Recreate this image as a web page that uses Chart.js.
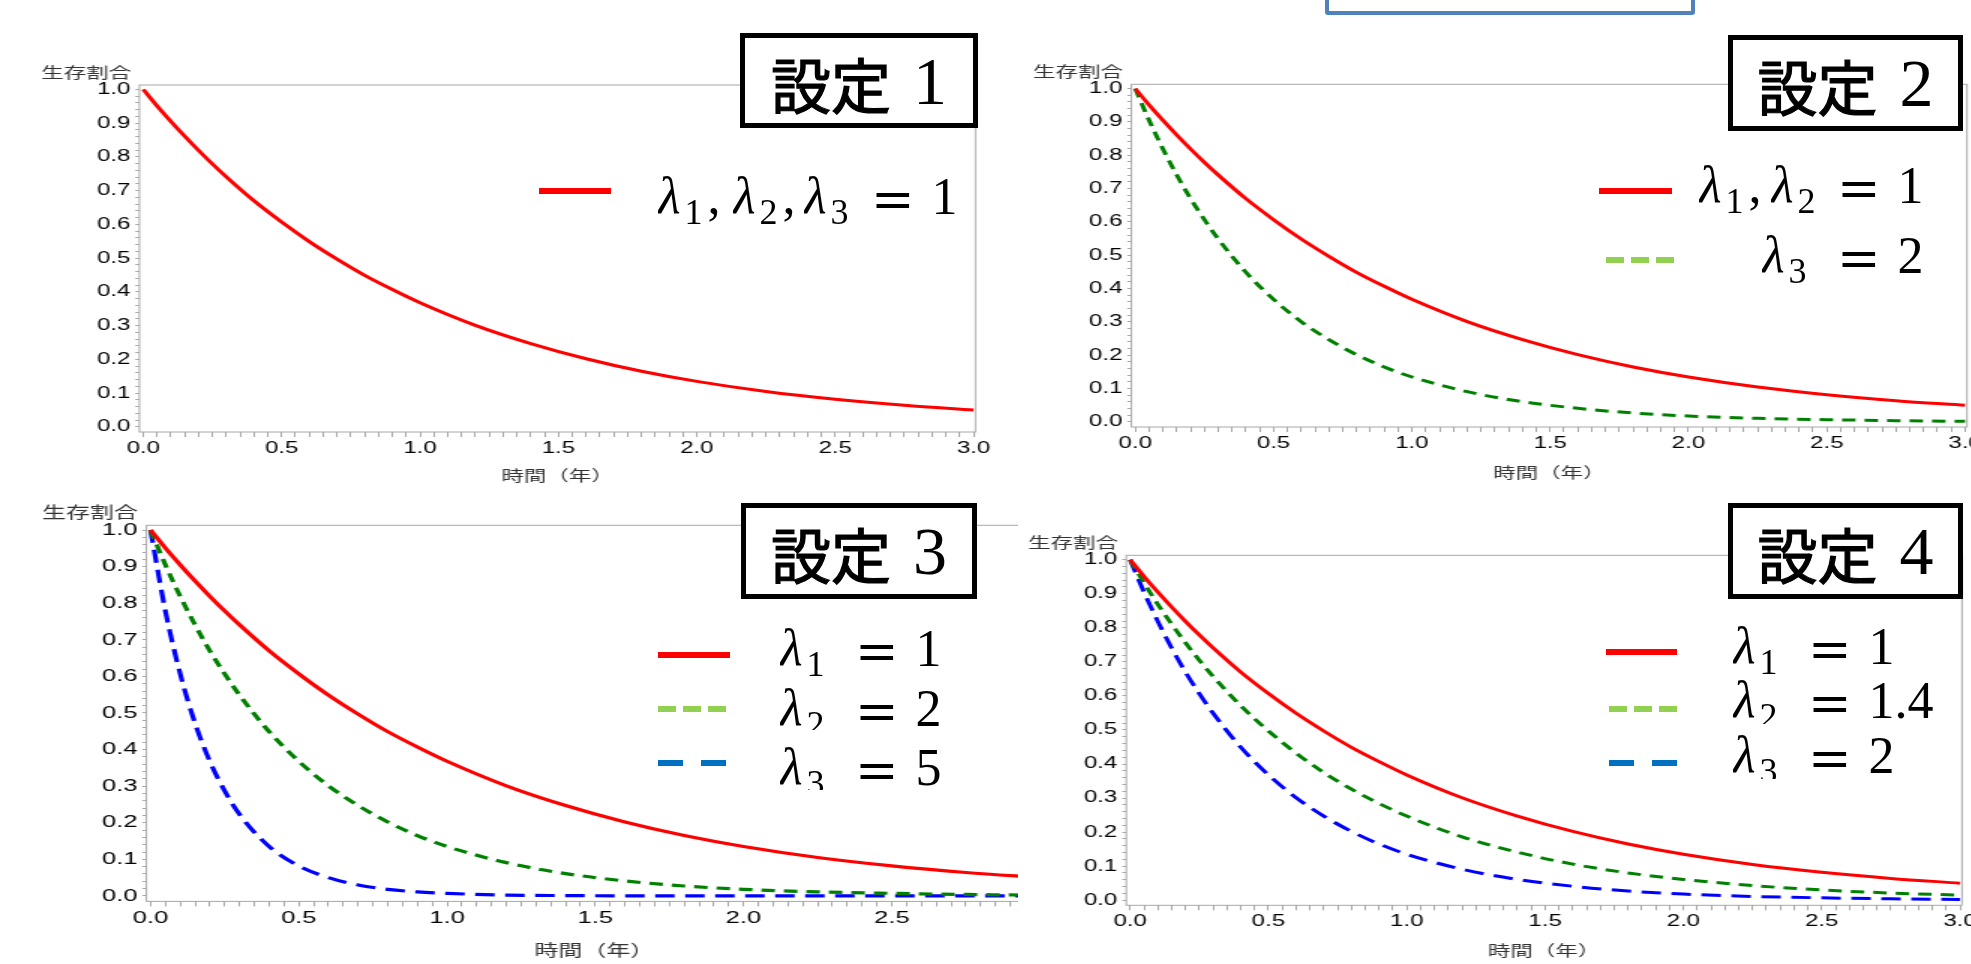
<!DOCTYPE html>
<html>
<head>
<meta charset="utf-8">
<script src="https://cdn.jsdelivr.net/npm/chart.js@4.4.1/dist/chart.umd.min.js"></script>
<style>
  html, body { margin: 0; padding: 0; background: #fff; }
  body { position: relative; width: 1971px; height: 964px; overflow: hidden; }
  canvas.panel { position: absolute; transform-origin: 0 0; transform: scaleX(1.5); }
  #c4 { background: #fff; }
  .box { position: absolute; box-sizing: border-box; border: 5px solid #000; background: #fff;
         display: flex; align-items: center; justify-content: center; padding-top: 4px; }
  .box .jp { font: 60px/1 "Noto Sans CJK JP", sans-serif; color: #000; -webkit-text-stroke: 1.2px #000; }
  .box .num { font: 68px/1 "Liberation Serif", serif; color: #000; margin-left: 22px; position: relative; top: -2px; }
  .blue { position: absolute; left: 1325px; top: -30px; width: 370px; height: 45px;
          box-sizing: border-box; border: 4px solid #4f81bd; border-radius: 3px; }
  .lam { position: absolute; font: italic 52px/52px "Liberation Serif", serif; color: #000;
         white-space: nowrap; overflow: hidden; }
  .lam .sb { font-style: normal; font-size: 36px; position: relative; top: 11px; margin-left: 4px; }
  .lam .cm { font-style: normal; margin-left: 5px; }
  .eq { position: absolute; font: 52px/52px "Liberation Serif", serif; color: #000; white-space: nowrap; }
  .eq .op { font-family: "DejaVu Serif", serif; position: relative; top: 3px; }
  .eq .v { margin-left: 17px; }
  .smp { position: absolute; height: 6px; }
</style>
</head>
<body>
<canvas id="c1" class="panel"></canvas>
<canvas id="c2" class="panel"></canvas>
<canvas id="c3" class="panel"></canvas>
<canvas id="c4" class="panel"></canvas>
<div class="blue"></div>
<div id="overlay"></div>
<script>
// horizontal stretch of the pasted plots
const S = 1.5;

// time points (years) and survival values
const times      = [0, 0.05, 0.1, 0.15, 0.2, 0.25, 0.3, 0.4, 0.5, 0.6, 0.7, 0.8, 0.9, 1.0, 1.2, 1.4, 1.6, 1.8, 2.0, 2.25, 2.5, 2.75, 3.0];
const survLam1   = [1.000, 0.951, 0.905, 0.861, 0.819, 0.779, 0.741, 0.670, 0.607, 0.549, 0.497, 0.449, 0.407, 0.368, 0.301, 0.247, 0.202, 0.165, 0.135, 0.105, 0.082, 0.064, 0.050];
const survLam14  = [1.000, 0.932, 0.869, 0.811, 0.756, 0.705, 0.657, 0.571, 0.497, 0.432, 0.375, 0.326, 0.284, 0.247, 0.186, 0.141, 0.106, 0.080, 0.061, 0.043, 0.030, 0.021, 0.015];
const survLam2   = [1.000, 0.905, 0.819, 0.741, 0.670, 0.607, 0.549, 0.449, 0.368, 0.301, 0.247, 0.202, 0.165, 0.135, 0.091, 0.061, 0.041, 0.027, 0.018, 0.011, 0.007, 0.004, 0.002];
const survLam5   = [1.000, 0.779, 0.607, 0.472, 0.368, 0.287, 0.223, 0.135, 0.082, 0.050, 0.030, 0.018, 0.011, 0.007, 0.002, 0.001, 0.000, 0.000, 0.000, 0.000, 0.000, 0.000, 0.000];

const yTickLabels = ['0.0', '0.1', '0.2', '0.3', '0.4', '0.5', '0.6', '0.7', '0.8', '0.9', '1.0'];
const xTickLabels = ['0.0', '0.5', '1.0', '1.5', '2.0', '2.5', '3.0'];
const yTitle = '生存割合';
const xTitle = '時間（年）';
const settingNames = ['1', '2', '3', '4'];

const RED = '#ff0000', GREEN = '#008000', BLUE = '#0000ff';

// minor tick positions (every 0.02 on y, every 0.05 on x)
const yMinor = [];
for (let i = 0; i <= 50; i++) yMinor.push(i / 50);
const xMinor = [];
for (let i = 0; i <= 60; i++) xMinor.push(i / 20);

const panels = [
  { id: 'c1', left: 0, top: 50, width: 1000, plot: [139.4, 85, 975.5, 432], titleY: 475, fs: 16, tfs: 15, lw: 3,
    series: [{ data: survLam1, color: RED, dash: [] }] },
  { id: 'c2', left: 1000, top: 50, width: 1000, plot: [1131.4, 84.3, 1967, 427], titleY: 472, fs: 16, tfs: 15, lw: 3,
    series: [{ data: survLam1, color: RED, dash: [] }, { data: survLam2, color: GREEN, dash: [9, 6] }] },
  { id: 'c3', left: 0, top: 490, width: 1070, plot: [146.4, 525.3, 1042.1, 901], titleY: 950, fs: 17, tfs: 16, lw: 3.2,
    series: [{ data: survLam1, color: RED, dash: [] }, { data: survLam2, color: GREEN, dash: [9, 6] },
             { data: survLam5, color: BLUE, dash: [13, 7] }] },
  { id: 'c4', left: 1018, top: 500, width: 1000, plot: [1126.3, 555.3, 1962, 905.3], titleY: 950, fs: 16, tfs: 15, lw: 3,
    series: [{ data: survLam1, color: RED, dash: [] }, { data: survLam14, color: GREEN, dash: [9, 6] },
             { data: survLam2, color: BLUE, dash: [13, 7] }] }
];

panels.forEach(p => {
  const [pl, pt, pr, pb] = p.plot;
  const cw = Math.round(p.width / S);
  const xh = (p.titleY - pb) + 0.6 * p.tfs;
  const ch = Math.round(pb + xh - p.top);
  const yw = (pl - p.left) / S;
  const canvas = document.getElementById(p.id);
  canvas.width = cw;
  canvas.height = ch;
  canvas.style.left = p.left + 'px';
  canvas.style.top = p.top + 'px';
  canvas.style.width = cw + 'px';
  canvas.style.height = ch + 'px';

  const tickFont = { family: "'Liberation Sans', Arial, sans-serif", size: p.fs };
  const jpFont = { family: "'Noto Sans CJK JP', sans-serif", size: p.tfs };

  new Chart(canvas.getContext('2d'), {
    type: 'line',
    data: {
      datasets: p.series.map(s => ({
        data: times.map((t, i) => ({ x: t, y: s.data[i] })),
        borderColor: s.color,
        borderWidth: p.lw,
        borderDash: s.dash,
        pointRadius: 0,
        fill: false,
        cubicInterpolationMode: 'monotone'
      }))
    },
    options: {
      responsive: false,
      animation: false,
      events: [],
      layout: { padding: { left: 0, top: pt - p.top, right: cw - (pr - p.left) / S, bottom: 0 } },
      plugins: { legend: { display: false }, tooltip: { enabled: false } },
      scales: {
        x: {
          type: 'linear', min: -0.014, max: 3.007,
          afterBuildTicks: sc => { sc.ticks = xMinor.map(v => ({ value: v })); },
          afterFit: sc => { sc.height = xh; },
          ticks: {
            autoSkip: false, maxRotation: 0, padding: 2, color: '#000', font: tickFont,
            callback: v => { const k = Math.round(v * 2); return Math.abs(v * 2 - k) < 1e-6 ? xTickLabels[k] : ''; }
          },
          grid: { drawOnChartArea: false, drawTicks: true, tickLength: 5, tickColor: '#a8a8a8' },
          border: { display: false },
          title: { display: true, text: xTitle, color: '#333', font: jpFont, padding: 0 }
        },
        y: {
          type: 'linear', min: -0.015, max: 1.013,
          afterBuildTicks: sc => { sc.ticks = yMinor.map(v => ({ value: v })); },
          afterFit: sc => { sc.width = yw; },
          ticks: {
            autoSkip: false, padding: 3.3, color: '#000', font: tickFont,
            callback: v => { const k = Math.round(v * 10); return Math.abs(v * 10 - k) < 1e-6 ? yTickLabels[k] : ''; }
          },
          grid: { drawOnChartArea: false, drawTicks: true, tickLength: 2.7, tickColor: '#a8a8a8' },
          border: { display: false }
        }
      }
    },
    plugins: [{
      id: 'frameAndTitle',
      beforeDatasetsDraw(chart) {
        const { ctx, chartArea: a } = chart;
        ctx.save();
        ctx.strokeStyle = '#a8a8a8';
        ctx.lineWidth = 1;
        ctx.strokeRect(a.left, a.top, a.right - a.left, a.bottom - a.top);
        ctx.restore();
      },
      afterDraw(chart) {
        const { ctx, chartArea: a } = chart;
        ctx.save();
        ctx.font = p.tfs + "px 'Noto Sans CJK JP', sans-serif";
        ctx.fillStyle = '#333';
        ctx.textAlign = 'right';
        ctx.textBaseline = 'middle';
        ctx.fillText(yTitle, a.left - 5.5, a.top - 13);
        ctx.restore();
      }
    }]
  });
});

// slide annotations: 設定 boxes and hand-made legends
const boxes = [
  { x: 740, y: 33, w: 238, h: 95 },
  { x: 1728, y: 35, w: 235, h: 96 },
  { x: 741, y: 503, w: 236, h: 96 },
  { x: 1728, y: 503, w: 235, h: 96 }
];
const legendLines = [
  { base: 213, eqX: 876, val: '1', lams: [{ x: 660, n: '1', c: true }, { x: 735, n: '2', c: true }, { x: 806, n: '3' }] },
  { base: 202, eqX: 1842, val: '1', lams: [{ x: 1701, n: '1', c: true }, { x: 1773, n: '2' }] },
  { base: 272, eqX: 1842, val: '2', lams: [{ x: 1764, n: '3' }] },
  { base: 665, eqX: 860, val: '1', lams: [{ x: 782, n: '1' }] },
  { base: 725, eqX: 860, val: '2', lams: [{ x: 782, n: '2' }], clip: 730 },
  { base: 784, eqX: 860, val: '5', lams: [{ x: 782, n: '3' }], clip: 790 },
  { base: 663, eqX: 1813, val: '1', lams: [{ x: 1735, n: '1' }] },
  { base: 717, eqX: 1813, val: '1.4', lams: [{ x: 1735, n: '2' }], clip: 724 },
  { base: 772, eqX: 1813, val: '2', lams: [{ x: 1735, n: '3' }], clip: 779 }
];
const samples = [
  { x: 539, y: 191, w: 72, kind: 'red' },
  { x: 1599, y: 191, w: 73, kind: 'red' },
  { x: 1606, y: 260, w: 68, kind: 'green' },
  { x: 658, y: 655, w: 72, kind: 'red' },
  { x: 658, y: 709, w: 68, kind: 'green' },
  { x: 658, y: 763, w: 68, kind: 'blue' },
  { x: 1606, y: 652, w: 71, kind: 'red' },
  { x: 1609, y: 709, w: 68, kind: 'green' },
  { x: 1609, y: 763, w: 68, kind: 'blue' }
];
const sampleBg = {
  red: '#ff0000',
  green: 'repeating-linear-gradient(90deg, #92d050 0 18px, transparent 18px 25px)',
  blue: 'repeating-linear-gradient(90deg, #0070c0 0 25px, transparent 25px 43px)'
};

const ov = document.getElementById('overlay');
boxes.forEach((b, i) => {
  const d = document.createElement('div');
  d.className = 'box';
  Object.assign(d.style, { left: b.x + 'px', top: b.y + 'px', width: b.w + 'px', height: b.h + 'px' });
  d.innerHTML = '<span class="jp">設定</span><span class="num">' + settingNames[i] + '</span>';
  ov.appendChild(d);
});
legendLines.forEach(l => {
  const top = l.base - 43.5;
  l.lams.forEach(m => {
    const d = document.createElement('div');
    d.className = 'lam';
    d.style.left = (m.x - 2) + 'px';
    d.style.top = top + 'px';
    d.style.height = (l.clip ? l.clip - top : 70) + 'px';
    d.innerHTML = 'λ<span class="sb">' + m.n + '</span>' + (m.c ? '<span class="cm">,</span>' : '');
    ov.appendChild(d);
  });
  const e = document.createElement('div');
  e.className = 'eq';
  e.style.left = (l.eqX - 5) + 'px';
  e.style.top = top + 'px';
  e.innerHTML = '<span class="op">=</span><span class="v">' + l.val + '</span>';
  ov.appendChild(e);
});
samples.forEach(s => {
  const d = document.createElement('div');
  d.className = 'smp';
  Object.assign(d.style, { left: s.x + 'px', top: (s.y - 3) + 'px', width: s.w + 'px', background: sampleBg[s.kind] });
  ov.appendChild(d);
});
</script>
</body>
</html>
